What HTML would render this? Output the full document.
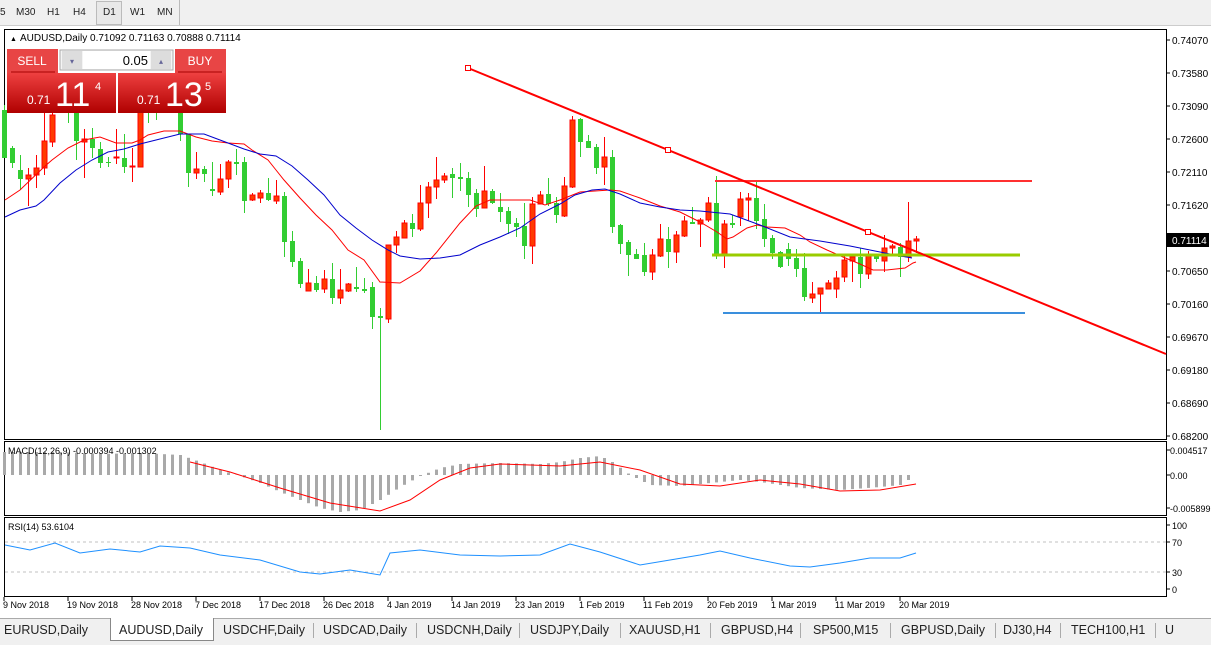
<!DOCTYPE html>
<html><head><meta charset="utf-8">
<style>
body{margin:0;width:1211px;height:644px;overflow:hidden;background:#fff;font-family:"Liberation Sans",sans-serif;position:relative}
.tb{position:absolute;left:0;top:0;width:1211px;height:25px;background:#f0f0f0;border-bottom:1px solid #ccc}
.tb span{position:absolute;top:7px;font-size:10px;color:#222}
.tabs{position:absolute;left:0;top:618px;width:1211px;height:26px;background:#f0f0f0;border-top:1px solid #aaa}
.tabs span{position:absolute;top:4px;font-size:12.5px;color:#222}
.tabs i{position:absolute;top:4px;width:1px;height:15px;background:#aaa}
svg{position:absolute;left:0;top:0}
</style></head><body>
<div class="tb">
<span style="left:0">5</span><span style="left:16px">M30</span><span style="left:47px">H1</span><span style="left:73px">H4</span>
<div style="position:absolute;left:96px;top:1px;width:24px;height:22px;border:1px solid #bbb;background:#e8e8e8"></div>
<span style="left:103px">D1</span><span style="left:130px">W1</span><span style="left:157px">MN</span>
<div style="position:absolute;left:179px;top:0;width:1px;height:25px;background:#bbb"></div>
</div>
<svg id="s" width="1211" height="644" xmlns="http://www.w3.org/2000/svg" font-family="Liberation Sans, sans-serif"></svg>
<div class="tabs">
<div style="position:absolute;left:110px;top:-1px;width:102px;height:22px;background:#fff;border:1px solid #888;border-top:none"></div>
<i style="left:313px"></i><i style="left:416px"></i><i style="left:519px"></i><i style="left:620px"></i><i style="left:710px"></i><i style="left:800px"></i><i style="left:890px"></i><i style="left:995px"></i><i style="left:1060px"></i><i style="left:1155px"></i>
<span style="left:4px">EURUSD,Daily</span><span style="left:119px">AUDUSD,Daily</span><span style="left:223px">USDCHF,Daily</span><span style="left:323px">USDCAD,Daily</span><span style="left:427px">USDCNH,Daily</span><span style="left:530px">USDJPY,Daily</span><span style="left:629px">XAUUSD,H1</span><span style="left:721px">GBPUSD,H4</span><span style="left:813px">SP500,M15</span><span style="left:901px">GBPUSD,Daily</span><span style="left:1003px">DJ30,H4</span><span style="left:1071px">TECH100,H1</span><span style="left:1165px">U</span>
</div>
<script>
var S=document.getElementById('s'),h='';
function L(x1,y1,x2,y2,c,w,d){h+='<line x1="'+x1+'" y1="'+y1+'" x2="'+x2+'" y2="'+y2+'" stroke="'+c+'" stroke-width="'+(w||1)+'"'+(d?' stroke-dasharray="'+d+'"':'')+'/>';}
function R(x,y,w,hh,f,st){h+='<rect x="'+x+'" y="'+y+'" width="'+w+'" height="'+hh+'" fill="'+f+'"'+(st?' stroke="'+st+'"':'')+'/>';}
function T(x,y,t,sz,c,a){h+='<text x="'+x+'" y="'+y+'" font-size="'+sz+'" fill="'+(c||'#000')+'"'+(a?' text-anchor="'+a+'"':'')+'>'+t+'</text>';}
function P(pts,c,w){h+='<polyline fill="none" stroke="'+c+'" stroke-width="'+(w||1)+'" points="'+pts.map(p=>p.join(',')).join(' ')+'"/>';}
R(4.5,29.5,1162,410,'#fff','#000');R(4.5,441.5,1162,74,'#fff','#000');R(4.5,517.5,1162,79,'#fff','#000');
var C=[['g',105,158,110,158],['g',146,168,148,163],['g',155,190,170,179],['r',168,206,175,179],['r',155,188,168,175],['r',100,175,141,168],['r',95,147,115,142],['g',90,112,95,108],['g',100,123,105,112],['g',100,160,108,141],
['r',129,178,139,142],['g',128,158,139,148],['g',142,168,149,163],['g',157,167,162,163],['r',129,164,157,158],['g',134,173,158,167],['r',148,182,166,167],['r',95,167,105,167],['g',95,123,100,112],['g',95,120,100,110],
['g',90,110,95,105],['g',90,112,95,108],['g',100,141,105,134],['g',134,187,134,173],['r',152,179,169,173],['g',166,182,169,174],['g',162,196,189,191],['r',164,195,179,192],['r',160,188,162,179],['g',149,175,162,164],
['g',157,213,162,201],['r',193,201,195,200],['r',190,203,193,198],['g',178,201,193,200],['r',180,204,196,201],['g',192,257,196,242],['g',231,267,241,262],['g',258,288,261,284],['r',269,291,283,291],['g',276,292,283,290],
['r',270,293,279,289],['g',263,304,279,298],['r',269,304,290,298],['r',283,292,284,291],['g',267,292,287,289],['g',278,293,289,291],['g',282,329,287,317],['g',308,430,316,318],['r',245,323,245,319],['r',231,253,237,245],
['r',220,238,223,238],['g',214,237,223,229],['r',185,231,203,229],['r',182,218,187,203],['r',157,199,180,187],['r',173,183,176,180],['g',168,198,174,178],['g',163,191,177,179],['g',172,207,178,195],['g',189,217,193,209],
['r',166,208,191,208],['g',189,204,191,203],['g',193,222,207,212],['g',207,234,211,224],['g',218,237,223,227],['g',203,259,226,246],['r',197,264,204,246],['r',191,204,195,204],['g',178,206,194,204],['g',197,223,203,215],
['r',177,217,186,216],['r',116,188,120,187],['g',118,157,119,142],['g',135,148,141,148],['g',144,174,147,168],['r',137,185,157,167],['g',150,233,157,227],['g',224,254,225,244],['g',240,276,242,255],['g',249,259,254,259],
['g',243,276,255,272],['r',249,280,255,272],['r',224,257,239,256],['g',227,268,239,252],['r',231,263,235,252],['r',216,237,221,236],['g',207,224,222,224],['r',218,247,220,224],['r',197,222,203,220],['g',176,259,203,254],
['r',220,268,224,254],['g',215,228,223,225],['r',192,226,199,217],['r',193,221,198,200],['g',182,229,198,221],['g',204,247,219,239],['g',235,259,238,253],['g',251,268,252,267],['g',243,266,249,259],['g',249,277,258,269],
['g',253,301,268,297],['r',282,303,294,298],['r',288,312,288,294],['r',280,289,283,289],['r',271,298,278,289],['r',254,282,260,277],['r',254,282,257,261],['g',248,288,257,274],['r',251,279,256,274],['g',254,262,256,259],
['r',235,272,248,261],['r',244,254,246,248],['g',243,277,247,257],['r',202,262,241,257],['r',236,253,239,241]];
C.forEach(function(c,i){var x=4+8*i,col=c[0]=='g'?'#32cd32':'#ff0000';L(x+.5,c[1],x+.5,c[2],col);
 var hh=Math.max(1,c[4]-c[3]);if(c[0]=='g')R(x-2,c[3],5,hh,'#32cd32');else R(x-2,c[3],5,hh,'#ff3a00','#ff0000');});
P([[5,200],[20,190],[44,167],[52,160],[68,148],[84,140],[100,137],[116,143],[132,143],[140,140],[148,135],[164,131],[180,131],[196,137],[212,141],[228,143],[244,144],[252,150],[268,160],[276,170],[284,180],[300,198],[316,215],[332,230],[348,250],[364,260],[380,282],[400,283],[420,271],[436,253],[460,223],[476,206],[490,200],[530,200],[545,205],[560,200],[580,192],[610,190],[620,191],[640,198],[660,206],[680,212],[700,222],[717,232],[727,239],[733,237],[747,228],[757,225],[767,227],[785,228],[800,235],[810,242],[827,250],[843,257],[860,264],[873,270],[887,270],[905,268],[913,263],[916,262]],'#ff0000');
P([[5,217],[20,210],[36,206],[44,200],[60,183],[76,170],[92,160],[108,152],[124,149],[140,144],[164,138],[180,134],[204,134],[220,140],[244,149],[260,154],[276,156],[292,166],[308,180],[324,195],[340,215],[356,228],[372,240],[388,250],[400,256],[420,259],[440,258],[460,255],[480,245],[500,237],[520,228],[540,214],[560,204],[575,195],[592,190],[605,189],[620,194],[640,203],[660,207],[680,210],[700,211],[730,214],[760,225],[790,237],[820,241],[850,246],[870,250],[895,255],[912,258]],'#0000cc');
L(715,181,1032,181,'#ff3030',2);L(712,255,1020,255,'#99cc00',3);L(723,313,1025,313,'#3a8fdd',2);
L(468,68,1166,354,'#ff0000',2);
[[468,68],[668,150],[868,232]].forEach(function(p){R(p[0]-2.5,p[1]-2.5,5,5,'#fff','#ff0000');});
var pr=['0.74070','0.73580','0.73090','0.72600','0.72110','0.71620','0.71130','0.70650','0.70160','0.69670','0.69180','0.68690','0.68200'];
pr.forEach(function(p,i){var y=40+i*33;L(1166,y,1170,y,'#000');if(i!=6)T(1172,y+4,p,10);});
R(1167,233,42,14,'#000');T(1172,244,'0.71114',10,'#fff');
T(10,41,'▲',7);T(20,41,'AUDUSD,Daily  0.71092 0.71163 0.70888 0.71114',10);
h+='<defs><linearGradient id="rg" x1="0" y1="0" x2="0" y2="1"><stop offset="0" stop-color="#ee4040"/><stop offset="1" stop-color="#b00000"/></linearGradient></defs>';
R(7,49,51,24,'#e84545');R(175,49,51,24,'#e84545');L(11,72,55,72,'#a00');L(178,72,222,72,'#a00');
T(32,65,'SELL',12,'#fff','middle');T(200,65,'BUY',12,'#fff','middle');
R(60,50,113,20,'#f4f4f4','#aaa');R(62,51,20,18,'#ddd');R(151,51,20,18,'#ddd');R(83,51,67,18,'#fff');
T(148,65,'0.05',13,'#000','end');T(72,64,'▾',8,'#669','middle');T(161,64,'▴',8,'#669','middle');
R(7,73,109,40,'url(#rg)');R(118,73,108,40,'url(#rg)');
T(27,104,'0.71',12,'#fff');T(55,106,'11',34,'#fff');T(95,90,'4',11,'#fff');
T(137,104,'0.71',12,'#fff');T(165,106,'13',34,'#fff');T(205,90,'5',11,'#fff');
var hk=[[4,452],[60,452],[100,454],[140,453],[180,455],[200,462],[220,470],[240,476],[260,483],[280,492],[300,500],[320,508],[340,512],[360,510],[380,500],[400,487],[420,476],[440,468],[460,464],[500,463],[540,464],[560,462],[580,458],[600,456],[612,462],[630,475],[650,485],[680,486],[720,482],[740,480],[760,482],[800,488],[840,490],[880,487],[900,485],[916,475]];
function itp(a,x){for(var i=1;i<a.length;i++)if(x<=a[i][0]){var t=(x-a[i-1][0])/(a[i][0]-a[i-1][0]);return a[i-1][1]+t*(a[i][1]-a[i-1][1]);}return a[a.length-1][1];}
for(var i=0;i<115;i++){var x=4+8*i,y=itp(hk,x);if(y<475)R(x-1,y,3,475-y,'#a9a9a9');else R(x-1,475,3,y-475,'#a9a9a9');}
P([[190,462],[230,472],[280,488],[330,503],[380,511],[410,500],[440,480],[470,468],[500,464],[560,466],[600,462],[640,470],[680,484],[720,486],[760,480],[800,484],[840,491],[880,490],[916,484]],'#ff0000');
T(8,454,'MACD(12,26,9) -0.000394 -0.001302',9);
[[450,'0.004517'],[475,'0.00'],[508,'-0.005899']].forEach(function(a){L(1166,a[0],1170,a[0],'#000');T(1170,a[0]+4,a[1],9);});
L(5,542,1166,542,'#c0c0c0',1,'3,3');L(5,572,1166,572,'#c0c0c0',1,'3,3');
P([[5,545],[30,550],[55,543],[80,553],[110,549],[140,552],[160,546],[190,548],[220,555],[260,560],[300,572],[320,574],[350,570],[380,575],[390,553],[420,550],[460,555],[500,556],[540,555],[570,544],[600,552],[640,565],[670,560],[700,555],[720,551],[750,558],[790,566],[810,567],[840,563],[870,558],[900,558],[916,553]],'#1e90ff');
T(8,530,'RSI(14) 53.6104',9);
[[525,'100'],[542,'70'],[572,'30'],[589,'0']].forEach(function(a){L(1166,a[0],1170,a[0],'#000');T(1172,a[0]+4,a[1],9);});
var ds=['9 Nov 2018','19 Nov 2018','28 Nov 2018','7 Dec 2018','17 Dec 2018','26 Dec 2018','4 Jan 2019','14 Jan 2019','23 Jan 2019','1 Feb 2019','11 Feb 2019','20 Feb 2019','1 Mar 2019','11 Mar 2019','20 Mar 2019'];
ds.forEach(function(d,i){var x=i==0?3:3+64*i;L(x+1,597,x+1,601,'#000');T(x,608,d,9);});
S.innerHTML=h;
</script>
</body></html>
